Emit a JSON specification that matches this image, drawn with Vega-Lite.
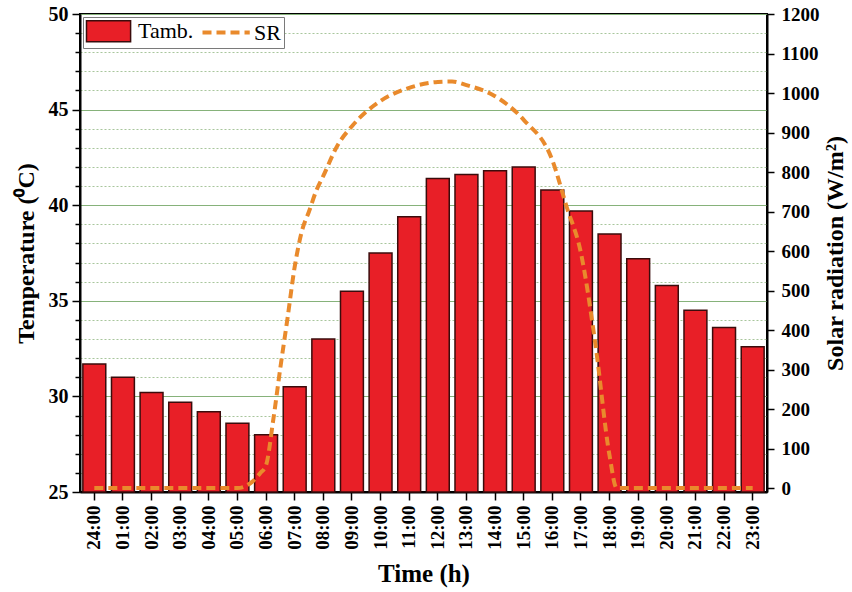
{
  "$schema": "https://vega.github.io/schema/vega-lite/v6.json",
  "width": 687,
  "height": 478,
  "autosize": {"type": "none"},
  "padding": {"left": 80, "top": 14, "right": 85, "bottom": 100},
  "background": "white",
  "config": {
    "font": "Liberation Serif",
    "view": {"stroke": "black", "strokeWidth": 2}
  },
  "datasets": {
    "temperature": [
      {"time": "24:00", "temp": 31.7},
      {"time": "01:00", "temp": 31.0},
      {"time": "02:00", "temp": 30.2},
      {"time": "03:00", "temp": 29.7},
      {"time": "04:00", "temp": 29.2},
      {"time": "05:00", "temp": 28.6},
      {"time": "06:00", "temp": 28.0},
      {"time": "07:00", "temp": 30.5},
      {"time": "08:00", "temp": 33.0},
      {"time": "09:00", "temp": 35.5},
      {"time": "10:00", "temp": 37.5},
      {"time": "11:00", "temp": 39.4},
      {"time": "12:00", "temp": 41.4},
      {"time": "13:00", "temp": 41.6},
      {"time": "14:00", "temp": 41.8},
      {"time": "15:00", "temp": 42.0},
      {"time": "16:00", "temp": 40.8},
      {"time": "17:00", "temp": 39.7},
      {"time": "18:00", "temp": 38.5},
      {"time": "19:00", "temp": 37.2},
      {"time": "20:00", "temp": 35.8},
      {"time": "21:00", "temp": 34.5},
      {"time": "22:00", "temp": 33.6},
      {"time": "23:00", "temp": 32.6}
    ],
    "solar": [
      {"hour": 0, "sr": 0},
      {"hour": 1, "sr": 0},
      {"hour": 2, "sr": 0},
      {"hour": 3, "sr": 0},
      {"hour": 4, "sr": 0},
      {"hour": 5, "sr": 0},
      {"hour": 5.5, "sr": 15},
      {"hour": 5.8, "sr": 38},
      {"hour": 6, "sr": 58},
      {"hour": 6.25, "sr": 172},
      {"hour": 6.5, "sr": 305},
      {"hour": 6.75, "sr": 430},
      {"hour": 7, "sr": 560},
      {"hour": 7.25, "sr": 650},
      {"hour": 7.5, "sr": 700},
      {"hour": 7.75, "sr": 752},
      {"hour": 8, "sr": 790},
      {"hour": 8.5, "sr": 868},
      {"hour": 9, "sr": 916},
      {"hour": 10, "sr": 980},
      {"hour": 11, "sr": 1013},
      {"hour": 12, "sr": 1028},
      {"hour": 12.5, "sr": 1029},
      {"hour": 13, "sr": 1020},
      {"hour": 14, "sr": 992},
      {"hour": 15, "sr": 932},
      {"hour": 16, "sr": 830},
      {"hour": 16.5, "sr": 712},
      {"hour": 17, "sr": 595},
      {"hour": 17.5, "sr": 367},
      {"hour": 18, "sr": 82},
      {"hour": 18.25, "sr": 0},
      {"hour": 19, "sr": 0},
      {"hour": 20, "sr": 0},
      {"hour": 21, "sr": 0},
      {"hour": 22, "sr": 0},
      {"hour": 23, "sr": 0}
    ]
  },
  "layer": [
    {
      "data": {"name": "temperature"},
      "mark": {"type": "bar", "fill": "#e81f27", "strokeWidth": 1.5},
      "encoding": {
        "x": {
          "field": "time",
          "type": "ordinal",
          "sort": null,
          "scale": {"paddingInner": 0.2, "paddingOuter": 0.1},
          "axis": {
            "title": "Time (h)",
            "titleFont": "Liberation Serif",
            "titleFontSize": 25,
            "titleFontWeight": "bold",
            "titleColor": "black",
            "titlePadding": 12,
            "labelAngle": 270,
            "labelFont": "Liberation Serif",
            "labelFontSize": 19,
            "labelFontWeight": "bold",
            "labelColor": "black",
            "labelPadding": 5,
            "tickColor": "black",
            "tickWidth": 1.5,
            "tickSize": 8,
            "domainColor": "black",
            "domainWidth": 2
          }
        },
        "y": {
          "field": "temp",
          "type": "quantitative",
          "scale": {"domain": [25, 50], "nice": false, "zero": false},
          "axis": {
            "title": "Temperature (⁰C)",
            "values": [25, 26, 27, 28, 29, 30, 31, 32, 33, 34, 35, 36, 37, 38, 39, 40, 41, 42, 43, 44, 45, 46, 47, 48, 49, 50],
            "labelExpr": "datum.value % 5 === 0 ? datum.label : ''",
            "grid": true,
            "gridColor": {"condition": {"test": "datum.value % 5 === 0", "value": "#86b27a"}, "value": "#a8c69c"},
            "gridDash": {"condition": {"test": "datum.value % 5 === 0", "value": []}, "value": [2, 2]},
            "gridWidth": 1.2,
            "tickSize": {"condition": {"test": "datum.value % 5 === 0", "value": 8}, "value": 5},
            "tickColor": "black",
            "tickWidth": 1.5,
            "domainColor": "black",
            "domainWidth": 2,
            "labelFont": "Liberation Serif",
            "labelFontSize": 20,
            "labelFontWeight": "bold",
            "labelColor": "black",
            "labelPadding": 4,
            "titleFont": "Liberation Serif",
            "titleFontSize": 24,
            "titleFontWeight": "bold",
            "titleColor": "black",
            "titlePadding": 10
          }
        },
        "y2": {"datum": 25},
        "stroke": {
          "datum": "Tamb.",
          "scale": {"domain": ["Tamb.", "SR"], "range": ["#3a0c0c", "#e98a2c"]},
          "legend": {
            "title": null,
            "orient": "top-left",
            "direction": "horizontal",
            "offset": 3,
            "padding": 3,
            "strokeColor": "#7a7a7a",
            "fillColor": "white",
            "symbolSize": 441,
            "symbolType": {"expr": "datum.value === 'SR' ? 'M-1,0H3.5' : 'M-1,-1H3.2V1H-1Z'"},
            "symbolFillColor": {"expr": "datum.value === 'SR' ? 'transparent' : '#e81f27'"},
            "symbolStrokeWidth": {"expr": "datum.value === 'SR' ? 4 : 1.5"},
            "symbolDash": {"expr": "datum.value === 'SR' ? [9, 5] : [1, 0]"},
            "symbolOpacity": 1,
            "columnPadding": 0,
            "labelOffset": 30,
            "labelFont": "Liberation Serif",
            "labelFontSize": 22,
            "labelColor": "black"
          }
        }
      }
    },
    {
      "data": {"name": "solar"},
      "mark": {"type": "line", "interpolate": "monotone", "strokeWidth": 4, "strokeDash": [9, 5], "strokeCap": "butt"},
      "encoding": {
        "x": {
          "field": "hour",
          "type": "quantitative",
          "scale": {"domain": [-0.5, 23.5], "nice": false, "zero": false},
          "axis": null
        },
        "y": {
          "field": "sr",
          "type": "quantitative",
          "scale": {"domain": [-10, 1200], "nice": false, "zero": false},
          "axis": {
            "orient": "right",
            "title": "Solar radiation (W/m²)",
            "values": [0, 100, 200, 300, 400, 500, 600, 700, 800, 900, 1000, 1100, 1200],
            "format": "d",
            "grid": false,
            "tickColor": "black",
            "tickWidth": 1.5,
            "tickSize": 7,
            "domainColor": "black",
            "domainWidth": 2,
            "labelFont": "Liberation Serif",
            "labelFontSize": 19,
            "labelFontWeight": "bold",
            "labelColor": "black",
            "labelPadding": 7,
            "titleFont": "Liberation Serif",
            "titleFontSize": 24,
            "titleFontWeight": "bold",
            "titleColor": "black",
            "titleAngle": 270,
            "titlePadding": 28
          }
        },
        "stroke": {"datum": "SR", "legend": null}
      }
    }
  ],
  "resolve": {"scale": {"y": "independent", "x": "independent"}}
}
